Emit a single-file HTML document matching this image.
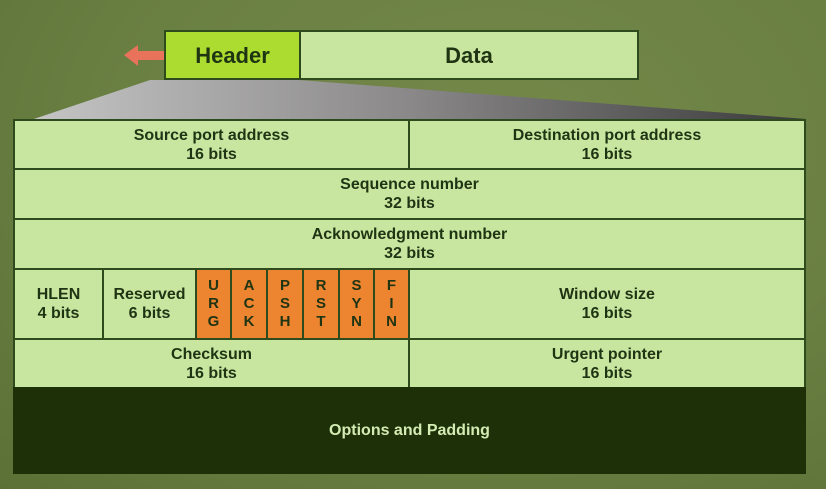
<!DOCTYPE html>
<html><head><meta charset="utf-8"><style>
body{margin:0;width:826px;height:489px;overflow:hidden;background:radial-gradient(ellipse at 60% 30%,#74884a 0%,#6a7f42 55%,#5b7136 100%);font-family:"Liberation Sans",sans-serif;}
.c{position:absolute;box-sizing:border-box;background:#c9e6a1;border:2px solid #2d4b1c;color:#1f3413;font-weight:bold;font-size:16px;display:flex;flex-direction:column;align-items:center;justify-content:center;text-align:center;line-height:19px;}
.f{background:#ec8430;font-size:15px;line-height:18px;}
</style></head><body>
<svg style="position:absolute;left:0;top:0" width="826" height="489">
<defs><linearGradient id="g" x1="0" x2="1" y1="0" y2="0"><stop offset="0" stop-color="#c8c8c8"/><stop offset="0.5" stop-color="#8a8888"/><stop offset="1" stop-color="#3a3a3a"/></linearGradient></defs>
<polygon points="150,80 299,80 806,119 13,126" fill="url(#g)"/>
<polygon points="124,55 138,45 138,51 164,51 164,60 138,60 138,66" fill="#e8735a"/>
</svg>
<div class="c" style="left:164px;top:30px;width:137px;height:50px;background:#acdc30;font-size:22px">Header</div>
<div class="c" style="left:299px;top:30px;width:340px;height:50px;font-size:22px">Data</div>
<div class="c" style="left:13px;top:119px;width:397px;height:51px">Source port address<br>16 bits</div>
<div class="c" style="left:408px;top:119px;width:398px;height:51px">Destination port address<br>16 bits</div>
<div class="c" style="left:13px;top:168px;width:793px;height:52px">Sequence number<br>32 bits</div>
<div class="c" style="left:13px;top:218px;width:793px;height:52px">Acknowledgment number<br>32 bits</div>
<div class="c" style="left:13px;top:268px;width:91px;height:72px">HLEN<br>4 bits</div>
<div class="c" style="left:102px;top:268px;width:95px;height:72px">Reserved<br>6 bits</div>
<div class="c f" style="left:195px;top:268px;width:37px;height:72px">U<br>R<br>G</div>
<div class="c f" style="left:230px;top:268px;width:38px;height:72px">A<br>C<br>K</div>
<div class="c f" style="left:266px;top:268px;width:38px;height:72px">P<br>S<br>H</div>
<div class="c f" style="left:302px;top:268px;width:38px;height:72px">R<br>S<br>T</div>
<div class="c f" style="left:338px;top:268px;width:37px;height:72px">S<br>Y<br>N</div>
<div class="c f" style="left:373px;top:268px;width:37px;height:72px">F<br>I<br>N</div>
<div class="c" style="left:408px;top:268px;width:398px;height:72px">Window size<br>16 bits</div>
<div class="c" style="left:13px;top:338px;width:397px;height:51px">Checksum<br>16 bits</div>
<div class="c" style="left:408px;top:338px;width:398px;height:51px">Urgent pointer<br>16 bits</div>
<div class="c" style="left:13px;top:387px;width:793px;height:87px;background:#1e3008;border-color:#1e3008;color:#d4ecb4">Options and Padding</div>
</body></html>
